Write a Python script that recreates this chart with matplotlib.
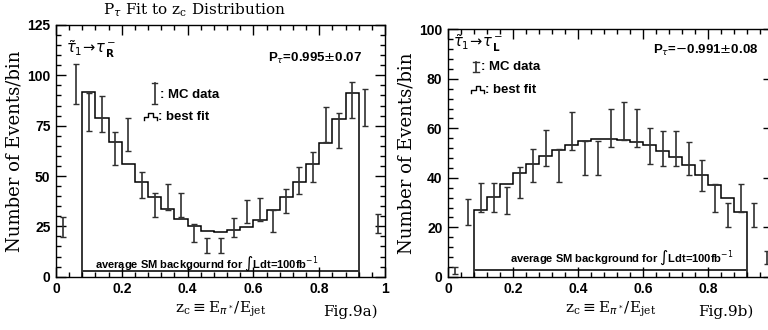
import numpy as np
import matplotlib
matplotlib.use("Agg")
import matplotlib.pyplot as plt
from matplotlib.ticker import MultipleLocator

# bins of width 0.04 over z_c in [0, 1]
edges_all = np.round(np.arange(0, 1.0001, 0.04), 2)
centers = (edges_all[:-1] + edges_all[1:]) / 2
fit_edges = edges_all[2:24]          # fit only defined on 0.08 .. 0.92

# Fig.9a  tau_R
data_a = [24.7, 95.7, 81.7, 80.7, 63.7, 70.7, 45.5, 35.6, 39.5, 35.5, 21.5, 15.5, 15.5,
          24.4, 32.4, 33.5, 27.7, 37.6, 47.6, 54.6, 75.7, 72.7, 87.7, 83.9, 26.3]
err_a = [5.1, 9.7, 9.3, 8.8, 8.0, 8.3, 6.5, 5.8, 6.3, 6.0, 4.5, 3.9, 3.9,
         4.9, 5.6, 5.7, 5.4, 6.2, 6.7, 7.5, 8.7, 8.7, 9.0, 9.2, 4.8]
fit_a = [91.5, 78.6, 66.7, 56.2, 47.1, 39.7, 33.4, 28.5, 25.1, 22.8, 22.3,
         23.2, 24.8, 28.1, 33.1, 39.7, 47.1, 55.9, 66.5, 78.1, 91.0]
bkg_a = [3.0] * 21

# Fig.9b  tau_L
data_b = [2.6, 26.1, 32.0, 32.0, 30.9, 38.0, 45.0, 52.0, 45.0, 59.0, 48.0, 48.0, 60.0,
          63.0, 60.0, 53.0, 51.9, 51.8, 47.8, 41.0, 31.8, 25.1, 31.9, 25.1, 7.9]
err_b = [1.5, 5.2, 5.7, 5.7, 5.5, 6.3, 6.7, 7.3, 6.7, 7.7, 6.9, 6.9, 7.6,
         7.7, 7.6, 7.3, 7.2, 7.2, 6.8, 6.2, 5.5, 4.9, 5.6, 4.9, 2.7]
fit_b = [27.0, 32.4, 37.4, 41.8, 45.6, 48.8, 51.2, 53.2, 54.9, 55.5, 55.7,
         55.3, 54.6, 53.2, 51.0, 48.5, 45.2, 41.1, 37.1, 32.0, 26.3]
bkg_b = [2.7] * 21

serif = "DejaVu Serif"
sans = "Liberation Sans"

fig = plt.figure(figsize=(7.68, 3.30), dpi=100)
ax1 = fig.add_axes([56/768, 1-276.7/330, 329/768, 251.7/330])
ax2 = fig.add_axes([448/768, 1-276.8/330, 325/768, 247.5/330])


def setup(ax, ymax, ymaj, ymin, xlabels):
    ax.set_xlim(0, 1)
    ax.set_ylim(0, ymax)
    ax.xaxis.set_major_locator(MultipleLocator(0.2))
    ax.xaxis.set_minor_locator(MultipleLocator(0.04))
    ax.yaxis.set_major_locator(MultipleLocator(ymaj))
    ax.yaxis.set_minor_locator(MultipleLocator(ymin))
    ax.tick_params(which="both", direction="in", top=True, right=True, width=1.0)
    ax.tick_params(which="major", length=7, pad=4)
    ax.tick_params(which="minor", length=3.5)
    ax.set_xticks([0, 0.2, 0.4, 0.6, 0.8, 1.0])
    ax.set_xticklabels(xlabels)
    for lab in ax.get_xticklabels() + ax.get_yticklabels():
        lab.set_fontfamily(sans)
        lab.set_fontweight("bold")
        lab.set_fontsize(10)
    for s in ax.spines.values():
        s.set_linewidth(1.0)
    ax.set_ylabel("Number of Events/bin", fontfamily=serif, fontsize=13, labelpad=3)
    ax.set_xlabel(r"z$_\mathregular{c}$$\equiv$E$_{\pi^*}$/E$_\mathregular{jet}$",
                  fontfamily=serif, fontsize=11, labelpad=2)


def draw(ax, data, err, fit, bkg):
    ax.errorbar(centers, data, yerr=err, fmt="none", ecolor="#303030",
                elinewidth=1.2, capsize=2.5, capthick=1.0)
    ax.stairs(fit, fit_edges, baseline=0, color="black", lw=1.1)
    ax.stairs(bkg, fit_edges, baseline=None, color="#303030", lw=1.4)


def legend(ax, xb, yb_top, yb_bot, ty1, fx, fy):
    ax.plot([xb, xb], [yb_bot, yb_top], color="#303030", lw=1.2, transform=ax.transAxes)
    for yy in (yb_bot, yb_top):
        ax.plot([xb - 0.008, xb + 0.008], [yy, yy], color="#303030", lw=1.0,
                transform=ax.transAxes)
    ax.text(xb + 0.015, ty1, ": MC data", fontfamily=sans, fontweight="bold",
            fontsize=9.5, va="center", transform=ax.transAxes)
    w = 0.013
    px = [fx, fx, fx + w, fx + w, fx + 2*w, fx + 2*w, fx + 3*w, fx + 3*w]
    py = [fy - 0.014, fy, fy, fy + 0.014, fy + 0.014, fy, fy, fy - 0.014]
    ax.plot(px, py, color="black", lw=1.0, transform=ax.transAxes)
    ax.text(fx + 3*w + 0.003, fy, ": best fit", fontfamily=sans, fontweight="bold",
            fontsize=9.5, va="center", transform=ax.transAxes)


setup(ax1, 125, 25, 5, ["0", "0.2", "0.4", "0.6", "0.8", "1"])
draw(ax1, data_a, err_a, fit_a, bkg_a)
legend(ax1, 0.30, 0.77, 0.686, 0.72, 0.268, 0.636)
ax1.text(0.03, 0.905, r"$\tilde{\tau}_1\!\rightarrow\!\tau^-_{\,\mathbf{R}}$", fontsize=10.5,
         va="center", transform=ax1.transAxes)
ax1.text(0.93, 0.869, r"P$_\tau$=0.995$\pm$0.07", fontfamily=sans, fontweight="bold",
         fontsize=9.5, ha="right", va="center", transform=ax1.transAxes)
ax1.text(0.119, 0.05, r"average SM backgournd for $\int$Ldt=100fb$^{-1}$",
         fontfamily=sans, fontweight="bold", fontsize=8, va="center",
         transform=ax1.transAxes)

setup(ax2, 100, 20, 4, ["0", "0.2", "0.4", "0.6", "0.8", ""])
draw(ax2, data_b, err_b, fit_b, bkg_b)
legend(ax2, 0.086, 0.867, 0.827, 0.849, 0.072, 0.755)
ax2.text(0.015, 0.945, r"$\tilde{\tau}_1\!\rightarrow\!\tau^-_{\,\mathbf{L}}$", fontsize=10.5,
         va="center", transform=ax2.transAxes)
ax2.text(0.954, 0.916, r"P$_\tau$=$-$0.991$\pm$0.08", fontfamily=sans, fontweight="bold",
         fontsize=9.5, ha="right", va="center", transform=ax2.transAxes)
ax2.text(0.19, 0.075, r"average SM background for $\int$Ldt=100fb$^{-1}$",
         fontfamily=sans, fontweight="bold", fontsize=8, va="center",
         transform=ax2.transAxes)

fig.text(194/768, 1-1/330, r"P$_\tau$ Fit to z$_\mathregular{c}$ Distribution",
         fontfamily=serif, fontsize=11, ha="center", va="top")
fig.text(350/768, 1-312/330, "Fig.9a)", fontfamily=serif, fontsize=11,
         ha="center", va="center")
fig.text(726/768, 1-312/330, "Fig.9b)", fontfamily=serif, fontsize=11,
         ha="center", va="center")

fig.savefig("out.png", dpi=100)
